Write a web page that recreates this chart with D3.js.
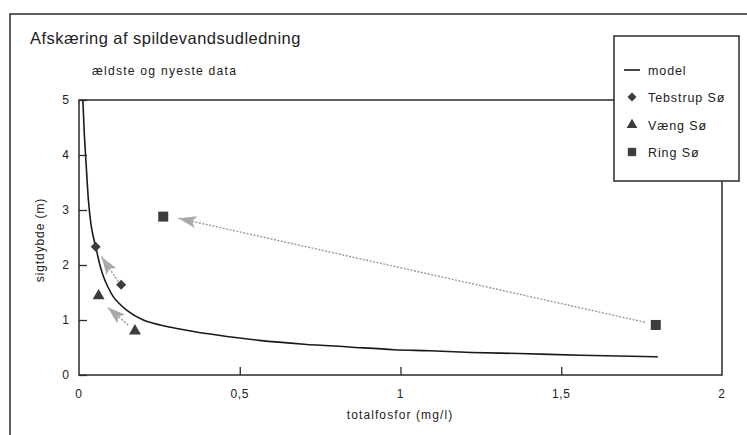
<!DOCTYPE html>
<html><head><meta charset="utf-8">
<script src="https://cdn.jsdelivr.net/npm/d3@7"></script>
<style>
body{margin:0;background:#fff;}
svg text{font-family:"Liberation Sans",Arial,sans-serif;fill:#222;}
</style></head>
<body>
<svg id="c" width="747" height="435"></svg>
<script>
// ---- data ----
const modelTP = [0.012,0.016,0.022,0.029,0.037,0.045,0.052,0.065,0.076,0.09,0.107,0.125,0.148,0.2,0.252,0.3,0.356,0.46,0.56,0.7,0.84,0.98,1.09,1.22,1.37,1.56,1.8];
const modelSD = [5.0,4.45,3.85,3.2,2.75,2.5,2.33,2.0,1.79,1.6,1.42,1.3,1.18,1.0,0.91,0.85,0.79,0.70,0.63,0.56,0.51,0.46,0.44,0.41,0.39,0.36,0.33];
const tebstrupTP = [0.052, 0.131];
const tebstrupSD = [2.33, 1.64];
const vaengTP = [0.061, 0.174];
const vaengSD = [1.44, 0.80];
const ringTP = [0.262, 1.794];
const ringSD = [2.88, 0.91];
// arrows: [fromTP, fromSD, toTP, toSD]
const arrowFromTP = [0.122, 0.153, 1.76];
const arrowFromSD = [1.70, 0.91, 0.96];
const arrowToTP = [0.070, 0.089, 0.309];
const arrowToSD = [2.15, 1.23, 2.85];
const xTicks = [0, 0.5, 1, 1.5, 2];
const xTickLabels = ["0", "0,5", "1", "1,5", "2"];
const yTicks = [0, 1, 2, 3, 4, 5];
const legendLabels = ["model", "Tebstrup Sø", "Væng Sø", "Ring Sø"];
const title = "Afskæring af spildevandsudledning";
const subtitle = "ældste og nyeste data";
const xTitle = "totalfosfor (mg/l)";
const yTitle = "sigtdybde (m)";

// ---- drawing ----
const svg = d3.select("#c");
const ink = "#2a2a2a";
const x = d3.scaleLinear().domain([0, 2]).range([79, 722]);
const y = d3.scaleLinear().domain([0, 5]).range([375, 100]);

// outer frame (right/bottom run off the picture)
svg.append("path").attr("d","M10,440 L10,14 L752,14").attr("fill","none").attr("stroke",ink).attr("stroke-width",1.5);

// title
svg.append("text").attr("x",30).attr("y",44).attr("font-size",16.5).attr("letter-spacing",0.45).text(title);
svg.append("text").attr("x",92).attr("y",74.5).attr("font-size",12.2).attr("letter-spacing",1.2).text(subtitle);

// plot box
svg.append("rect").attr("x",x(0)).attr("y",y(5)).attr("width",x(2)-x(0)).attr("height",y(0)-y(5))
  .attr("fill","none").attr("stroke",ink).attr("stroke-width",1.5);

// y axis ticks (inside)
const yAxis = d3.axisRight(y).tickValues(yTicks).tickSize(8).tickFormat("");
const gy = svg.append("g").attr("transform",`translate(${x(0)},0)`).call(yAxis);
gy.select(".domain").remove();
gy.selectAll("line").attr("stroke",ink).attr("stroke-width",1.3);
svg.selectAll(".ylab").data(yTicks).join("text").attr("class","ylab")
  .attr("x",69).attr("y",d=>y(d)+4).attr("text-anchor","end").attr("font-size",12).text(d=>d);

// x axis ticks (inside)
const xAxis = d3.axisTop(x).tickValues(xTicks.slice(1,-1)).tickSize(8).tickFormat("");
const gx = svg.append("g").attr("transform",`translate(0,${y(0)})`).call(xAxis);
gx.select(".domain").remove();
gx.selectAll("line").attr("stroke",ink).attr("stroke-width",1.3);
svg.selectAll(".xlab").data(xTicks).join("text").attr("class","xlab")
  .attr("x",d=>x(d)).attr("y",398).attr("text-anchor","middle").attr("font-size",12).attr("letter-spacing",0.6)
  .text((d,i)=>xTickLabels[i]);

// axis titles
svg.append("text").attr("x",400).attr("y",419).attr("text-anchor","middle").attr("font-size",12).attr("letter-spacing",1.1).text(xTitle);
svg.append("text").attr("transform","translate(44,240) rotate(-90)").attr("text-anchor","middle").attr("font-size",12).attr("letter-spacing",0.9).text(yTitle);

// arrows
const defs = svg.append("defs");
defs.append("marker").attr("id","ah").attr("viewBox","0 0 18 12").attr("refX",18).attr("refY",6)
  .attr("markerWidth",18).attr("markerHeight",12).attr("markerUnits","userSpaceOnUse").attr("orient","auto")
  .append("path").attr("d","M0,0 L18,6 L0,12 L4,6 Z").attr("fill","#a9a9a9");
svg.selectAll(".arr").data(arrowFromTP).join("line").attr("class","arr")
  .attr("x1",(d,i)=>x(arrowFromTP[i])).attr("y1",(d,i)=>y(arrowFromSD[i]))
  .attr("x2",(d,i)=>x(arrowToTP[i])).attr("y2",(d,i)=>y(arrowToSD[i]))
  .attr("stroke","#9a9a9a").attr("stroke-width",1.4).attr("stroke-dasharray","2,1.5")
  .attr("marker-end","url(#ah)");

// model curve
const line = d3.line().x(d=>x(d[0])).y(d=>y(d[1])).curve(d3.curveMonotoneX);
svg.append("path").datum(modelTP.map((t,i)=>[t,modelSD[i]])).attr("d",line)
  .attr("fill","none").attr("stroke","#1a1a1a").attr("stroke-width",1.6);

// points
const col = "#3c3c3c";
const sym = (type,size)=>d3.symbol().type(type).size(size)();
svg.selectAll(".teb").data(tebstrupTP).join("path").attr("class","teb")
  .attr("transform",(d,i)=>`translate(${x(d)},${y(tebstrupSD[i])}) rotate(45)`)
  .attr("d",sym(d3.symbolSquare,50)).attr("fill",col);
svg.selectAll(".vae").data(vaengTP).join("path").attr("class","vae")
  .attr("transform",(d,i)=>`translate(${x(d)},${y(vaengSD[i])})`)
  .attr("d",sym(d3.symbolTriangle,62)).attr("fill",col);
svg.selectAll(".ring").data(ringTP).join("path").attr("class","ring")
  .attr("transform",(d,i)=>`translate(${x(d)},${y(ringSD[i])})`)
  .attr("d",sym(d3.symbolSquare,100)).attr("fill",col);

// legend
const lg = svg.append("g");
lg.append("rect").attr("x",614).attr("y",36).attr("width",125).attr("height",145)
  .attr("fill","#fff").attr("stroke",ink).attr("stroke-width",1.5);
const ly = [70, 97, 125, 152];
lg.append("line").attr("x1",624).attr("x2",640).attr("y1",ly[0]).attr("y2",ly[0]).attr("stroke","#1a1a1a").attr("stroke-width",1.6);
lg.append("path").attr("transform",`translate(632,${ly[1]}) rotate(45)`).attr("d",sym(d3.symbolSquare,40)).attr("fill",col);
lg.append("path").attr("transform",`translate(632,${ly[2]})`).attr("d",sym(d3.symbolTriangle,50)).attr("fill",col);
lg.append("path").attr("transform",`translate(632,${ly[3]})`).attr("d",sym(d3.symbolSquare,70)).attr("fill",col);
lg.selectAll(".lt").data(legendLabels).join("text").attr("class","lt")
  .attr("x",648).attr("y",(d,i)=>ly[i]+4.5).attr("font-size",12.5).attr("letter-spacing",0.9).text(d=>d);
</script>
</body></html>
